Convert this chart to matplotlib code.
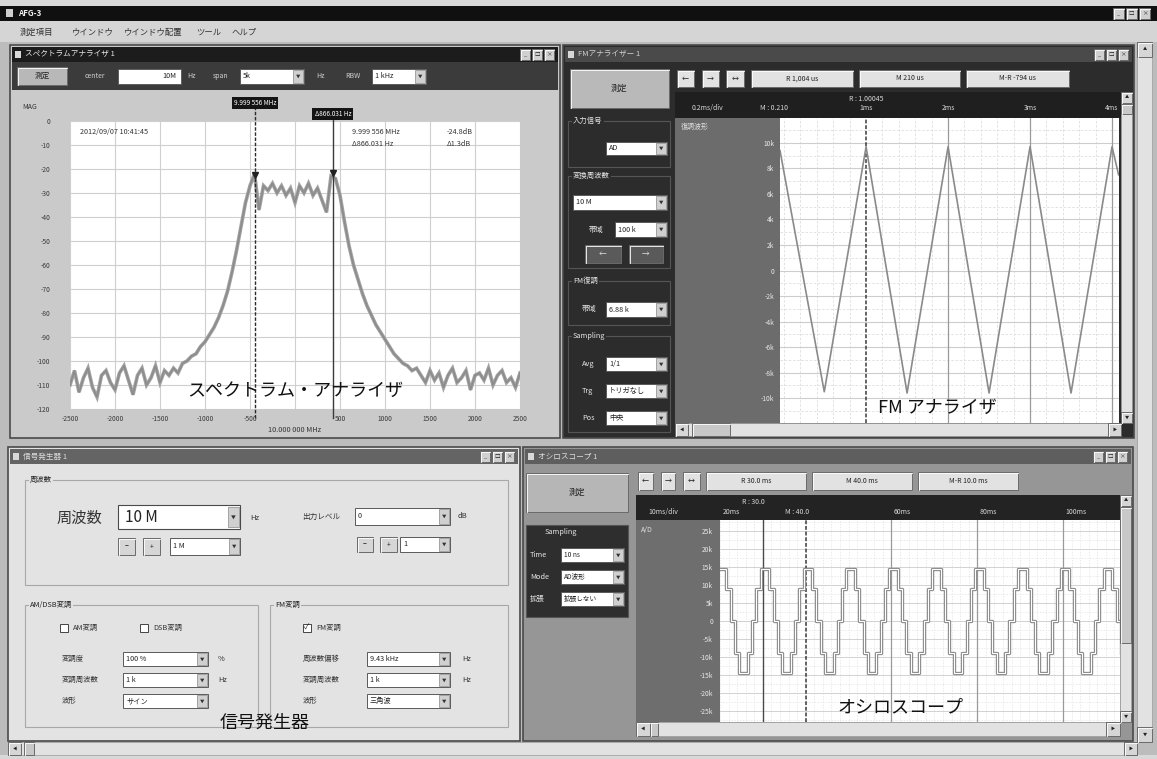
"""Recreation of the AFG-3 measurement software screenshot (4 MDI windows)."""

import numpy as np
import matplotlib

matplotlib.use("Agg")
import matplotlib.pyplot as plt
from matplotlib.patches import Rectangle
from matplotlib.transforms import blended_transform_factory

plt.rcParams["font.family"] = ["Noto Sans CJK JP", "DejaVu Sans"]

W, H = 1157, 759

# ---- spectrum analyser: level vs offset from 10 MHz (50 Hz steps) ----
spec_freq_hz = np.arange(-2500, 2501, 50)
spec_level_db = [
    -110, -104, -113, -107, -103, -111, -115, -106, -104, -109, -112, -105,
    -102, -108, -114, -106, -103, -110, -107, -102, -109, -104, -106,
    -103, -105, -101, -100, -98, -97, -94, -92, -89, -86,
    -82, -77, -71, -63, -54, -44, -34, -27, -22, -37,
    -27, -29, -26, -30, -27, -31, -28, -34, -27, -30,
    -26, -31, -28, -33, -38, -23, -24, -31, -42, -52,
    -60, -66, -72, -77, -81, -85, -88, -91, -94, -97,
    -99, -101, -102, -104,
    -103, -106, -109, -104, -108, -105, -111, -106, -103, -109, -107, -104,
    -112, -106, -105, -108, -103, -110, -106, -104, -109, -107, -111, -105,
]
spec_xticks_hz = [-2500, -2000, -1500, -1000, -500, 0, 500, 1000, 1500, 2000, 2500]
spec_xtick_labels = ["-2500", "-2000", "-1500", "-1000", "-500", "",
                     "500", "1000", "1500", "2000", "2500"]
spec_yticks_db = [0, -10, -20, -30, -40, -50, -60, -70, -80, -90, -100, -110, -120]
marker_freq_hz = [-444, 422]
marker_level_db = [-22.5, -21.5]
marker_labels = ["9.999 556 MHz", "Δ866.031 Hz"]
marker_values = ["-24.8dB", "Δ1.3dB"]

# ---- FM analyser: demodulated deviation, triangle vertices ----
fm_time_ms = [-0.05, 0.49, 1.0, 1.5, 2.0, 2.5, 3.0, 3.5, 4.0, 4.08]
fm_dev_khz = [9.4, -9.5, 9.7, -9.6, 9.7, -9.6, 9.7, -9.6, 9.7, 7.5]
fm_yticks = [10, 8, 6, 4, 2, 0, -2, -4, -6, -8, -10]
fm_ytick_labels = ["10k", "8k", "6k", "4k", "2k", "0", "-2k", "-4k", "-6k", "-8k", "-10k"]
fm_time_ticks = [1, 2, 3, 4]
fm_time_labels = ["1ms", "2ms", "3ms", "4ms"]

# ---- oscilloscope: held A/D samples (1 ms each) ----
scope_time_ms = np.arange(19.5, 114.5, 1.0)
scope_level_k = [
    14.5, 14.5, 9, 0, -9, -14.5, -14.5, -9, 0, 9,
    14.5, 14.5, 9, 0, -9, -14.5, -14.5, -9, 0, 9,
    14.5, 14.5, 9, 0, -9, -14.5, -14.5, -9, 0, 9,
    14.5, 14.5, 9, 0, -9, -14.5, -14.5, -9, 0, 9,
    14.5, 14.5, 9, 0, -9, -14.5, -14.5, -9, 0, 9,
    14.5, 14.5, 9, 0, -9, -14.5, -14.5, -9, 0, 9,
    14.5, 14.5, 9, 0, -9, -14.5, -14.5, -9, 0, 9,
    14.5, 14.5, 9, 0, -9, -14.5, -14.5, -9, 0, 9,
    14.5, 14.5, 9, 0, -9, -14.5, -14.5, -9, 0, 9,
    14.5, 14.5, 9, 0, -9,
]
scope_yticks = [25, 20, 15, 10, 5, 0, -5, -10, -15, -20, -25]
scope_ytick_labels = ["25k", "20k", "15k", "10k", "5k", "0", "-5k", "-10k", "-15k", "-20k", "-25k"]
scope_time_labels = [(20, "20ms"), (60, "60ms"), (80, "80ms"), (100, "100ms")]
scope_major_ms = [60, 80, 100]

fig = plt.figure(figsize=(W / 100, H / 100), dpi=100)
bg = fig.add_axes([0, 0, 1, 1])
bg.set_xlim(0, W)
bg.set_ylim(H, 0)
bg.axis("off")


def rect(x0, y0, x1, y1, fc, ec="none", lw=0.8, z=1):
    bg.add_patch(Rectangle((x0, y0), x1 - x0, y1 - y0, facecolor=fc,
                           edgecolor=ec, linewidth=lw, zorder=z))


def txt(x, y, s, size=5.5, color="#222222", ha="left", va="center", **kw):
    bg.text(x, y, s, fontsize=size, color=color, ha=ha, va=va, zorder=5, **kw)


def ftxt(x, y, s, size=13, color="#111111", ha="center"):
    fig.text(x / W, 1 - y / H, s, fontsize=size, color=color, ha=ha, va="center")


def button(x0, y0, x1, y1, s="", fc="#d6d6d6", size=5.5, color="#222222"):
    rect(x0, y0, x1, y1, fc, ec="#6a6a6a", lw=0.7, z=3)
    bg.plot([x0 + 0.5, x0 + 0.5, x1 - 0.5], [y1 - 0.5, y0 + 0.5, y0 + 0.5],
            color="white", lw=0.6, zorder=4)
    if s:
        txt((x0 + x1) / 2, (y0 + y1) / 2, s, size, color, ha="center")


def combo(x0, y0, x1, y1, s="", size=5.2):
    rect(x0, y0, x1, y1, "white", ec="#5a5a5a", lw=0.7, z=3)
    bw = min(10, (y1 - y0) - 2)
    rect(x1 - bw - 1, y0 + 1, x1 - 1, y1 - 1, "#d0d0d0", ec="#888888", lw=0.5, z=4)
    txt(x1 - bw / 2 - 1, (y0 + y1) / 2, "▼", 3.2, "#333333", ha="center")
    if s:
        txt(x0 + 3, (y0 + y1) / 2, s, size)


def vscroll(x0, y0, x1, y1, thumb=None):
    rect(x0, y0, x1, y1, "#e2e2e2", ec="#9a9a9a", lw=0.5, z=3)
    button(x0, y0, x1, y0 + (x1 - x0), "▲", size=3)
    button(x0, y1 - (x1 - x0), x1, y1, "▼", size=3)
    if thumb:
        button(x0, thumb[0], x1, thumb[1], fc="#c8c8c8")


def hscroll(x0, y0, x1, y1, thumb=None):
    rect(x0, y0, x1, y1, "#e2e2e2", ec="#9a9a9a", lw=0.5, z=3)
    button(x0, y0, x0 + (y1 - y0), y1, "◀", size=3)
    button(x1 - (y1 - y0), y0, x1, y1, "▶", size=3)
    if thumb:
        button(thumb[0], y0, thumb[1], y1, fc="#c8c8c8")


def window(x0, y0, x1, y1, title, title_fc, body_fc, title_color="#e8e8e8"):
    rect(x0, y0, x1, y1, body_fc, ec="#4a4a4a", lw=1.2)
    rect(x0 + 2, y0 + 2, x1 - 2, y0 + 17, title_fc, z=2)
    rect(x0 + 5, y0 + 6, x0 + 11, y0 + 13, "#d8d8d8", z=3)
    txt(x0 + 15, y0 + 9.5, title, 5.5, title_color)
    for i in range(3):
        button(x1 - 40 + i * 12, y0 + 4, x1 - 30 + i * 12, y0 + 15,
               ["_", "□", "×"][i], fc="#d0d0d0", size=4)


def group(x0, y0, x1, y1, title, fc, color="#222222", ec="#a8a8a8"):
    rect(x0, y0, x1, y1, "none", ec=ec, lw=0.8, z=2)
    txt(x0 + 5, y0, title, 5.3, color,
        bbox=dict(facecolor=fc, edgecolor="none", pad=0.8))


def px_axes(x0, y0, x1, y1):
    return fig.add_axes([x0 / W, 1 - y1 / H, (x1 - x0) / W, (y1 - y0) / H])


# ---- main application frame ----
rect(0, 0, W, H, "#bcbcbc")
rect(0, 0, W, 6, "#d8d8d8")
rect(0, 6, W, 21, "#101010", z=2)
rect(6, 9, 13, 17, "#cfcfcf", z=3)
txt(18, 13.5, "AFG-3", 5.8, "#f0f0f0", weight="bold")
for i in range(3):
    button(1113 + i * 13, 8, 1124 + i * 13, 19, ["_", "□", "×"][i], fc="#cfcfcf", size=4)
rect(0, 21, W, 42, "#d5d5d5", z=2)
for x, s in [(20, "測定項目"), (72, "ウインドウ"), (124, "ウインドウ配置"), (196, "ツール"), (231, "ヘルプ")]:
    txt(x, 32, s, 6, "#333333")
vscroll(1137, 42, 1152, 742)
hscroll(8, 742, 1137, 755, thumb=(24, 34))
rect(0, 755, W, H, "#d8d8d8")

# ---- spectrum analyser window ----
window(10, 45, 560, 438, "スペクトラムアナライザ 1", "#1c1c1c", "#cacaca")
rect(12, 62, 558, 90, "#3b3b3b", z=2)
button(17, 67, 67, 85, "測定", fc="#b8b8b8", size=5.5)
txt(85, 76, "center", 5, "#d0d0d0")
rect(118, 69, 181, 84, "white", ec="#555555", lw=0.6, z=3)
txt(176, 76.5, "10M", 5.2, ha="right")
txt(187, 76, "Hz", 5, "#d0d0d0")
txt(213, 76, "span", 5, "#d0d0d0")
combo(240, 69, 304, 84, "5k")
txt(316, 76, "Hz", 5, "#d0d0d0")
txt(345, 76, "RBW", 5, "#d0d0d0")
combo(372, 69, 426, 84, "1 kHz")
txt(22, 107, "MAG", 5, "#333333")
txt(295, 430, "10.000 000 MHz", 5.3, "#333333", ha="center")

ax = px_axes(70, 121, 520, 409)
ax.set_facecolor("white")
ax.plot(spec_freq_hz, spec_level_db, color="#a2a2a2", lw=2.6, solid_joinstyle="miter")
ax.plot(spec_freq_hz, spec_level_db, color="#8c8c8c", lw=1.2)
ax.set_xlim(-2500, 2500)
ax.set_ylim(-120, 0)
ax.set_xticks(spec_xticks_hz)
ax.set_xticklabels(spec_xtick_labels)
ax.set_yticks(spec_yticks_db)
ax.set_yticklabels([str(v) for v in spec_yticks_db])
ax.tick_params(length=0, labelsize=4.8, labelcolor="#3a3a3a")
ax.tick_params(axis="y", pad=14)
ax.tick_params(axis="x", pad=4)
ax.grid(color="#cfcfcf", lw=0.8)
for s in ax.spines.values():
    s.set_visible(False)
blend = blended_transform_factory(ax.transData, ax.transAxes)
ax.plot([marker_freq_hz[0]] * 2, [-0.031, 1.045], transform=blend, clip_on=False,
        color="#2a2a2a", lw=1, ls=(0, (2.5, 1.2)))
ax.plot([marker_freq_hz[1]] * 2, [-0.031, 1.007], transform=blend, clip_on=False,
        color="#3a3a3a", lw=1)
ax.plot(marker_freq_hz, marker_level_db, "v", color="#222222", ms=4.5)
for f, lab, yy in zip(marker_freq_hz, marker_labels, [1.0625, 1.024]):
    ax.text(f, yy, lab, transform=blend, ha="center", va="center", fontsize=4.6,
            color="white", clip_on=False,
            bbox=dict(facecolor="#141414", edgecolor="none", pad=1.6))
ftxt(80, 132, "2012/09/07 10:41:45", 5.2, "#333333", ha="left")
for i, (lab, val) in enumerate(zip(marker_labels, marker_values)):
    ftxt(352, 132 + 11.5 * i, lab, 5.2, "#333333", ha="left")
    ftxt(447, 132 + 11.5 * i, val, 5.2, "#333333", ha="left")

# ---- FM analyser window ----
window(563, 45, 1134, 438, "FMアナライザー 1", "#4a4a4a", "#2c2c2c", "#d0d0d0")
button(570, 69, 669, 108, "測定", fc="#b9b9b9", size=6)
for (x0, x1), s in zip([(677, 694), (702, 719), (726, 744)], ["←", "→", "↔"]):
    button(x0, 70, x1, 87, s, fc="#e2e2e2", size=5)
for (x0, x1), s in zip([(751, 853), (859, 960), (966, 1069)],
                       ["R 1,004 us", "M 210 us", "M-R -794 us"]):
    button(x0, 70, x1, 87, s, fc="#e2e2e2", size=5)
group(568, 121, 670, 167, "入力信号", "#2c2c2c", "#e6e6e6", "#555555")
combo(606, 142, 667, 155, "AD")
group(568, 176, 670, 268, "変換周波数", "#2c2c2c", "#e6e6e6", "#555555")
combo(573, 195, 667, 210, "10 M")
txt(589, 230, "帯域", 5.3, "#e6e6e6")
combo(615, 222, 667, 237, "100 k")
button(585, 245, 621, 263, "←", fc="#5a5a5a", color="#e0e0e0")
button(629, 245, 663, 263, "→", fc="#5a5a5a", color="#e0e0e0")
group(568, 281, 670, 325, "FM復調", "#2c2c2c", "#e6e6e6", "#555555")
txt(582, 309, "帯域", 5.3, "#e6e6e6")
combo(606, 302, 667, 317, "6.88 k")
group(568, 336, 670, 432, "Sampling", "#2c2c2c", "#e6e6e6", "#555555")
for y, lab, val in [(364, "Avg", "1/1"), (391, "Trg", "トリガなし"), (418, "Pos", "中央")]:
    txt(582, y, lab, 5.3, "#e6e6e6")
    combo(606, y - 7, 667, y + 7, val)
rect(675, 92, 1121, 118, "#1f1f1f", z=2)
rect(675, 118, 780, 423, "#6c6c6c", z=2)
txt(681, 127, "復調波形", 5, "#e0e0e0")
txt(707, 108, "0.2ms/div", 5, "#d8d8d8", ha="center")
txt(774, 108, "M : 0.210", 5, "#d8d8d8", ha="center")
txt(866, 99, "R : 1.00045", 5, "#d8d8d8", ha="center")
vscroll(1121, 92, 1132, 423, thumb=(104, 114))
hscroll(675, 423, 1121, 436, thumb=(692, 730))

ax = px_axes(780, 118, 1119, 423)
ax.set_facecolor("white")
ax.plot(fm_time_ms, fm_dev_khz, color="#8a8a8a", lw=1.2, zorder=3)
ax.set_xlim(-0.05, 4.085)
ax.set_ylim(-11.95, 11.95)
ax.set_xticks(fm_time_ticks)
ax.set_xticklabels([])
ax.set_xticks(np.arange(0, 4.1, 0.2), minor=True)
ax.set_yticks(fm_yticks)
ax.set_yticklabels(fm_ytick_labels)
ax.set_yticks(np.arange(-11, 12, 2), minor=True)
ax.tick_params(which="both", length=0, labelsize=4.8, labelcolor="#e8e8e8", pad=4)
ax.grid(which="minor", color="#dedede", lw=0.6, ls=(0, (3, 2)))
ax.grid(axis="y", which="major", color="#cdcdcd", lw=0.8)
for t in fm_time_ticks[1:]:
    ax.axvline(t, color="#9a9a9a", lw=0.9)
ax.axvline(fm_time_ticks[0], color="#3a3a3a", lw=1.1, ls=(0, (2.5, 1.2)))
for s in ax.spines.values():
    s.set_visible(False)
blend = blended_transform_factory(ax.transData, ax.transAxes)
for t, lab in zip(fm_time_ticks, fm_time_labels):
    ax.text(t, 1.033, lab, transform=blend, ha="center", va="center", fontsize=5,
            color="#d8d8d8", clip_on=False)

# ---- signal generator window ----
window(8, 447, 520, 741, "信号発生器 1", "#646464", "#e3e3e3", "#dcdcdc")
group(25, 480, 508, 585, "周波数", "#e3e3e3")
txt(57, 518, "周波数", 11, "#333333")
rect(118, 505, 240, 529, "white", ec="#4a4a4a", lw=0.8, z=3)
rect(228, 507, 239, 527, "#d0d0d0", ec="#888888", lw=0.5, z=4)
txt(233.5, 517, "▼", 3.5, "#333333", ha="center")
txt(125, 517, "10 M", 11, "#222222")
txt(250, 518, "Hz", 5.5, "#333333")
button(118, 538, 135, 555, "−", size=5)
button(143, 538, 160, 555, "+", size=5)
combo(170, 538, 240, 555, "1 M")
txt(302, 517, "出力レベル", 5.5, "#333333")
combo(355, 508, 450, 525, "0")
txt(458, 516, "dB", 5.5, "#333333")
button(357, 537, 373, 552, "−", size=5)
button(380, 537, 397, 552, "+", size=5)
combo(400, 537, 450, 552, "1")
group(25, 605, 258, 727, "AM/DSB変調", "#e3e3e3")
group(270, 605, 508, 727, "FM変調", "#e3e3e3")
for x0, lab, checked in [(60, "AM変調", False), (140, "DSB変調", False), (303, "FM変調", True)]:
    rect(x0, 624, x0 + 8, 632, "white", ec="#444444", lw=0.7, z=3)
    if checked:
        txt(x0 + 4, 628, "✓", 5.5, "#222222", ha="center")
    txt(x0 + 13, 628, lab, 5.3, "#333333")
for y, lab, val, unit in [(659, "変調度", "100 %", "%"), (680, "変調周波数", "1 k", "Hz"),
                          (701, "波形", "サイン", "")]:
    txt(62, y, lab, 5.3, "#333333")
    combo(123, y - 7, 208, y + 7, val)
    txt(218, y, unit, 5.3, "#333333")
for y, lab, val, unit in [(659, "周波数偏移", "9.43 kHz", "Hz"), (680, "変調周波数", "1 k", "Hz"),
                          (701, "波形", "三角波", "")]:
    txt(303, y, lab, 5.3, "#333333")
    combo(367, y - 7, 450, y + 7, val)
    txt(462, y, unit, 5.3, "#333333")

# ---- oscilloscope window ----
window(523, 447, 1133, 741, "オシロスコープ 1", "#5e5e5e", "#969696", "#dcdcdc")
button(526, 473, 628, 512, "測定", fc="#b6b6b6", size=6)
rect(526, 525, 628, 617, "#2e2e2e", ec="#555555", lw=0.8, z=2)
txt(545, 532, "Sampling", 5.3, "#e6e6e6")
for y, lab, val in [(555, "Time", "10 ns"), (577, "Mode", "AD波形"), (599, "拡張", "拡張しない")]:
    txt(530, y, lab, 5.3, "#e6e6e6")
    combo(561, y - 7, 624, y + 7, val, size=4.8)
for (x0, x1), s in zip([(638, 653), (661, 675), (683, 700)], ["←", "→", "↔"]):
    button(x0, 472, x1, 490, s, fc="#e2e2e2", size=5)
for (x0, x1), s in zip([(706, 806), (812, 912), (918, 1018)],
                       ["R 30.0 ms", "M 40.0 ms", "M-R 10.0 ms"]):
    button(x0, 472, x1, 490, s, fc="#e2e2e2", size=5)
rect(636, 495, 1120, 520, "#232323", z=2)
rect(636, 520, 720, 722, "#6e6e6e", z=2)
txt(641, 530, "A/D", 5, "#e0e0e0")
txt(663, 512, "10ms/div", 5, "#d8d8d8", ha="center")
txt(753, 502, "R : 30.0", 5, "#d8d8d8", ha="center")
txt(797, 512, "M : 40.0", 5, "#d8d8d8", ha="center")
vscroll(1120, 495, 1131, 722, thumb=(507, 643))
hscroll(636, 722, 1120, 736, thumb=(650, 658))

ax = px_axes(720, 520, 1120, 722)
ax.set_facecolor("white")
ax.step(scope_time_ms, scope_level_k, where="post", color="#8a8a8a", lw=2.4, zorder=3)
ax.step(scope_time_ms, scope_level_k, where="post", color="white", lw=0.8, zorder=4)
ax.set_xlim(20, 113.3)
ax.set_ylim(-28.1, 28.1)
ax.set_xticks([])
ax.set_xticks(np.arange(20, 114, 2), minor=True)
ax.set_yticks(scope_yticks)
ax.set_yticklabels(scope_ytick_labels)
ax.set_yticks(np.arange(-27.5, 28, 5), minor=True)
ax.tick_params(which="both", length=0, labelsize=4.8, labelcolor="#e8e8e8", pad=5)
ax.grid(which="minor", color="#e2e2e2", lw=0.5, ls=(0, (2, 2)))
ax.grid(axis="y", which="major", color="#d2d2d2", lw=0.7)
for t in scope_major_ms:
    ax.axvline(t, color="#9a9a9a", lw=0.9)
ax.axvline(30, color="#4a4a4a", lw=1.0)
ax.axvline(40, color="#3a3a3a", lw=1.1, ls=(0, (2.5, 1.2)))
for s in ax.spines.values():
    s.set_visible(False)
blend = blended_transform_factory(ax.transData, ax.transAxes)
for t, lab in scope_time_labels:
    ax.text(t + 0.6, 1.04, lab, transform=blend, ha="left", va="center", fontsize=5,
            color="#d8d8d8", clip_on=False)

# ---- printed captions ----
ftxt(295, 391, "スペクトラム・アナライザ")
ftxt(937, 408, "FM アナライザ")
ftxt(265, 723, "信号発生器")
ftxt(900, 707, "オシロスコープ")

fig.savefig("out.png", dpi=100)
